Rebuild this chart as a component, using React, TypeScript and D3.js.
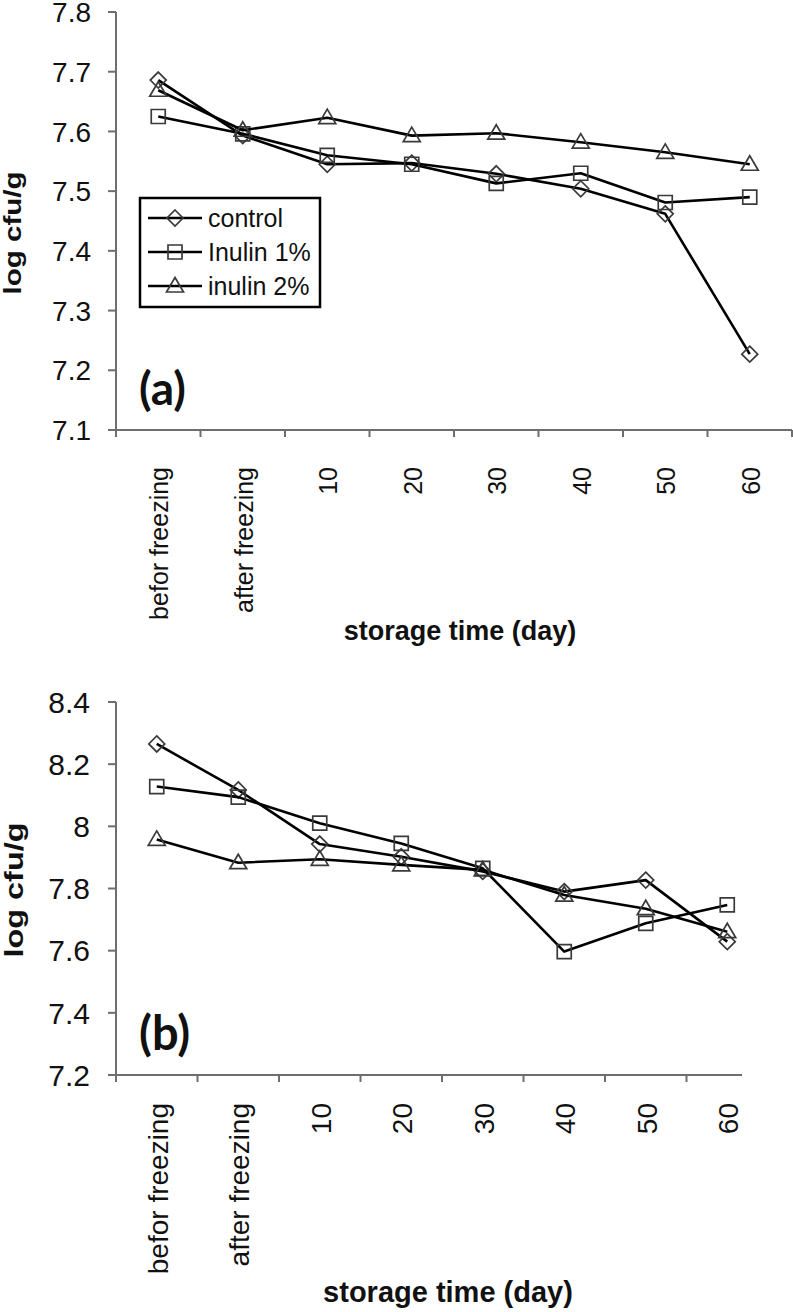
import React from "react";
import * as d3 from "d3";

// categories on the x axis (storage time)
const categories = ["befor freezing", "after freezing", "10", "20", "30", "40", "50", "60"];
const seriesNames = ["control", "Inulin 1%", "inulin 2%"];
const markerKinds = ["diamond", "square", "triangle"];

// panel (a)
const controlA = [7.686, 7.593, 7.545, 7.547, 7.529, 7.504, 7.462, 7.227];
const inulin1A = [7.625, 7.596, 7.56, 7.545, 7.513, 7.53, 7.481, 7.49];
const inulin2A = [7.669, 7.602, 7.623, 7.593, 7.597, 7.582, 7.565, 7.545];
const ticksA = [7.1, 7.2, 7.3, 7.4, 7.5, 7.6, 7.7, 7.8];

// panel (b)
const controlB = [8.265, 8.117, 7.943, 7.902, 7.855, 7.79, 7.827, 7.629];
const inulin1B = [8.128, 8.094, 8.01, 7.945, 7.865, 7.597, 7.688, 7.747];
const inulin2B = [7.958, 7.883, 7.894, 7.876, 7.86, 7.779, 7.735, 7.661];
const ticksB = [7.2, 7.4, 7.6, 7.8, 8.0, 8.2, 8.4];

const FONT = "Liberation Sans, Arial, Helvetica, sans-serif";
const AXIS = "#6e6e6e";

function markerPath(kind: string) {
  if (kind === "diamond") return "M0,-8L8,0L0,8L-8,0Z";
  if (kind === "square") return "M-7,-7H7V7H-7Z";
  return "M0,-8.5L8.5,6H-8.5Z";
}

function Marker({ kind, x, y }: { kind: string; x: number; y: number }) {
  return (
    <path
      d={markerPath(kind)}
      transform={`translate(${x},${y})`}
      fill="none"
      stroke="#3a3a3a"
      strokeWidth={1.7}
    />
  );
}

type PanelProps = {
  series: number[][];
  ticks: number[];
  yRange: [number, number];
  xRange: [number, number];
  axisEnd: number;
  tickFont: number;
  tickRight: number;
  catFont: number;
  catTop: number;
  titleY: number;
  titleFont: number;
  yTitle: { x: number; y: number; fs: number; len: number };
  letter: { text: string; x: number; y: number; fs: number };
  legend?: boolean;
};

function Panel(p: PanelProps) {
  const x = d3.scaleBand<string>().domain(categories).range(p.xRange);
  const y = d3
    .scaleLinear()
    .domain([p.ticks[0], p.ticks[p.ticks.length - 1]])
    .range(p.yRange);
  const cx = (i: number) => (x(categories[i]) as number) + x.bandwidth() / 2;
  const line = d3
    .line<number>()
    .x((_, i) => cx(i))
    .y((d) => y(d));
  const bounds = d3
    .range(categories.length + 1)
    .map((i) => p.xRange[0] + i * x.step())
    .filter((v) => v <= p.axisEnd + 0.5);
  const x0 = p.xRange[0];
  const yBase = p.yRange[0];

  return (
    <g fontFamily={FONT}>
      {/* y axis */}
      <line x1={x0} x2={x0} y1={p.yRange[1]} y2={yBase} stroke={AXIS} strokeWidth={2} />
      {p.ticks.map((t) => (
        <g key={t}>
          <line x1={x0 - 8} x2={x0} y1={y(t)} y2={y(t)} stroke={AXIS} strokeWidth={2} />
          <text
            x={p.tickRight}
            y={y(t)}
            dy="0.36em"
            textAnchor="end"
            fontSize={p.tickFont}
            fill="#111"
          >
            {String(+t.toFixed(1))}
          </text>
        </g>
      ))}
      {/* x axis */}
      <line x1={x0 - 8} x2={p.axisEnd} y1={yBase} y2={yBase} stroke={AXIS} strokeWidth={2} />
      {bounds.map((b, i) => (
        <line key={i} x1={b} x2={b} y1={yBase} y2={yBase + 7} stroke={AXIS} strokeWidth={2} />
      ))}
      {categories.map((c, i) => (
        <text
          key={c}
          transform={`translate(${cx(i) + 1},${p.catTop}) rotate(-90)`}
          dy="0.36em"
          textAnchor="end"
          fontSize={p.catFont}
          fill="#111"
        >
          {c}
        </text>
      ))}
      <text
        x={(p.xRange[0] + p.xRange[1]) / 2 + 6}
        y={p.titleY}
        textAnchor="middle"
        fontSize={p.titleFont}
        fontWeight="bold"
        fill="#111"
      >
        storage time (day)
      </text>
      <text
        transform={`translate(${p.yTitle.x},${p.yTitle.y}) rotate(-90)`}
        textAnchor="middle"
        fontSize={p.yTitle.fs}
        fontWeight="bold"
        textLength={p.yTitle.len}
        lengthAdjust="spacingAndGlyphs"
        fill="#111"
      >
        log cfu/g
      </text>
      <text
        x={p.letter.x}
        y={p.letter.y}
        fontSize={p.letter.fs}
        fontWeight="bold"
        fontFamily="Lato, 'Open Sans', sans-serif"
        fill="#111"
      >
        {p.letter.text}
      </text>
      {/* series */}
      {p.series.map((s, k) => (
        <g key={k}>
          <path d={line(s) || ""} fill="none" stroke="#000" strokeWidth={2.6} strokeLinejoin="round" />
          {s.map((v, i) => (
            <Marker key={i} kind={markerKinds[k]} x={cx(i)} y={y(v)} />
          ))}
        </g>
      ))}
      {p.legend && (
        <g>
          <rect x={140} y={198} width={180} height={109} fill="#fff" stroke="#000" strokeWidth={2.5} />
          {seriesNames.map((n, k) => {
            const ly = 218 + k * 34;
            return (
              <g key={n}>
                <line x1={148} x2={202} y1={ly} y2={ly} stroke="#000" strokeWidth={2.6} />
                <Marker kind={markerKinds[k]} x={175} y={ly} />
                <text x={208} y={ly} dy="0.36em" fontSize={25} fill="#111">
                  {n}
                </text>
              </g>
            );
          })}
        </g>
      )}
    </g>
  );
}

export default function App() {
  return (
    <svg
      width={793}
      height={1312}
      viewBox="0 0 793 1312"
      style={{ position: "absolute", left: 0, top: 0, background: "#fff" }}
    >
      <rect width={793} height={1312} fill="#fff" />
      <Panel
        series={[controlA, inulin1A, inulin2A]}
        ticks={ticksA}
        yRange={[430, 12]}
        xRange={[116, 792]}
        axisEnd={792}
        tickFont={28}
        tickRight={91}
        catFont={25}
        catTop={467}
        titleY={640}
        titleFont={27}
        yTitle={{ x: 21, y: 233, fs: 24, len: 123 }}
        letter={{ text: "(a)", x: 139, y: 405, fs: 46 }}
        legend
      />
      <Panel
        series={[controlB, inulin1B, inulin2B]}
        ticks={ticksB}
        yRange={[1075, 702]}
        xRange={[116, 768]}
        axisEnd={742}
        tickFont={30}
        tickRight={90}
        catFont={28}
        catTop={1103}
        titleY={1302}
        titleFont={29}
        yTitle={{ x: 23, y: 890, fs: 26, len: 135 }}
        letter={{ text: "(b)", x: 139, y: 1050, fs: 47 }}
      />
    </svg>
  );
}
